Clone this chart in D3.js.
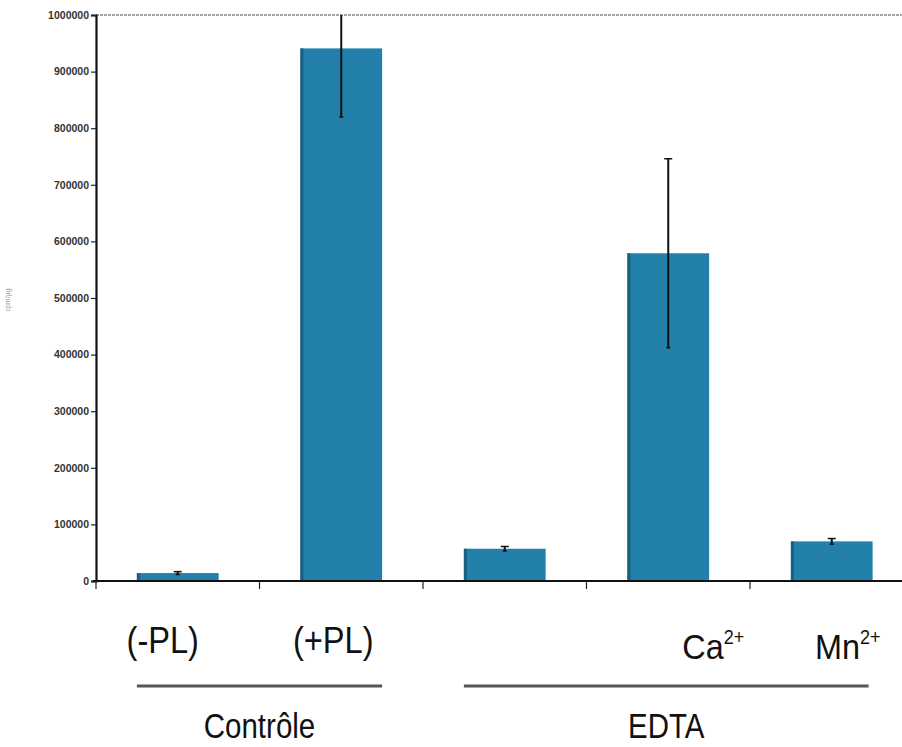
<!DOCTYPE html>
<html><head><meta charset="utf-8">
<script src="https://cdn.jsdelivr.net/npm/d3@7"></script>
<style>
html,body{margin:0;padding:0;background:#fff;}
svg{display:block;}
</style></head>
<body>
<svg id="chart" width="902" height="747"></svg>
<script>
// ---- data ----
const categories = ["(-PL)", "(+PL)", "EDTA", "Ca2+", "Mn2+"];
const labelBase = ["(-PL)", "(+PL)", "", "Ca", "Mn"];
const labelSup = ["", "", "", "2+", "2+"];
const values = [14000, 941000, 57000, 579000, 70000];
const errors = [2500, 121000, 4000, 167000, 5000];
const yTicks = [0, 100000, 200000, 300000, 400000, 500000, 600000, 700000, 800000, 900000, 1000000];
const groupNames = ["Contrôle", "EDTA"];
const groupFrom = [0, 2];
const groupTo = [1, 4];
const yTitle = "cpm/µg";

// ---- layout ----
const mLeft = 96, mRight = 913.5, mTop = 15, mBottom = 581;
const labelShift = [-15, -8, 0, 45, 16];
const font = "'Liberation Sans',Arial,sans-serif";
const barColor = "#2280ab";

const svg = d3.select("#chart");
const x = d3.scaleBand().domain(categories).range([mLeft, mRight]).paddingInner(0.5).paddingOuter(0.25);
const y = d3.scaleLinear().domain([0, 1000000]).range([mBottom, mTop]);

svg.append("defs").append("clipPath").attr("id", "plotclip")
  .append("rect").attr("x", mLeft).attr("y", mTop).attr("width", mRight - mLeft).attr("height", mBottom - mTop);

// top border (dotted gray)
svg.append("line").attr("x1", mLeft).attr("x2", 902).attr("y1", y(1000000)).attr("y2", y(1000000))
  .attr("stroke", "#888").attr("stroke-width", 1.5).attr("stroke-dasharray", "3,1");

// bars
const barsG = svg.append("g");
barsG.selectAll("rect").data(values).join("rect")
  .attr("x", (d, i) => x(categories[i]))
  .attr("y", d => y(d))
  .attr("width", x.bandwidth())
  .attr("height", d => y(0) - y(d))
  .attr("fill", barColor);
barsG.selectAll("line.edge").data(values).join("line").attr("class", "edge")
  .attr("x1", (d, i) => x(categories[i]) + 1.5).attr("x2", (d, i) => x(categories[i]) + 1.5)
  .attr("y1", d => y(d)).attr("y2", y(0))
  .attr("stroke", "#1a5f80").attr("stroke-width", 3);

// error bars
const eg = svg.append("g").attr("clip-path", "url(#plotclip)");
values.forEach((v, i) => {
  const cx = x(categories[i]) + x.bandwidth() / 2;
  const e = errors[i];
  eg.append("line").attr("x1", cx).attr("x2", cx).attr("y1", y(v - e)).attr("y2", y(v + e))
    .attr("stroke", "#111").attr("stroke-width", 2);
  eg.append("line").attr("x1", cx - 4).attr("x2", cx + 4).attr("y1", y(v + e)).attr("y2", y(v + e))
    .attr("stroke", "#111").attr("stroke-width", 1.5);
  eg.append("line").attr("x1", cx - 2).attr("x2", cx + 2).attr("y1", y(v - e)).attr("y2", y(v - e))
    .attr("stroke", "#111").attr("stroke-width", 1.5);
});

// y axis
const yAxis = svg.append("g").attr("transform", `translate(${mLeft},0)`)
  .call(d3.axisLeft(y).tickValues(yTicks).tickFormat(d3.format("d")).tickSize(5).tickPadding(2));
yAxis.select(".domain").attr("stroke", "#111").attr("stroke-width", 2.2);
yAxis.selectAll(".tick line").attr("stroke", "#222").attr("stroke-width", 1.2);
yAxis.selectAll(".tick text").attr("font-family", font).attr("font-size", 10.5).attr("font-weight", "bold").attr("fill", "#333");

// x axis (boundary ticks)
const step = x.step();
const bounds = categories.map((c, i) => x(c) - step * 0.25);
const xg = svg.append("g");
xg.append("line").attr("x1", mLeft - 3).attr("x2", 902).attr("y1", y(0)).attr("y2", y(0))
  .attr("stroke", "#111").attr("stroke-width", 2);
xg.selectAll("line.tk").data(bounds).join("line").attr("class", "tk")
  .attr("x1", d => d).attr("x2", d => d).attr("y1", y(0)).attr("y2", y(0) + 8)
  .attr("stroke", "#222").attr("stroke-width", 1.2);

// y title
svg.append("text").attr("transform", "translate(10,300) rotate(-90)")
  .attr("text-anchor", "middle").attr("font-family", font).attr("font-size", 7).attr("fill", "#999")
  .text(yTitle);

// category labels
categories.forEach((c, i) => {
  if (!labelBase[i]) return;
  const cx = x(c) + x.bandwidth() / 2 + labelShift[i];
  const sup = labelSup[i] !== "";
  const t = svg.append("text")
    .attr("transform", `translate(${cx},${sup ? 659 : 653}) scale(${sup ? 0.9 : 0.88},1)`)
    .attr("text-anchor", "middle").attr("font-family", font).attr("font-size", sup ? 36 : 37).attr("fill", "#111");
  t.append("tspan").text(labelBase[i]);
  if (sup) t.append("tspan").attr("font-size", 20).attr("dy", -15).text(labelSup[i]);
});

// group lines and names
groupNames.forEach((g, k) => {
  const x1 = x(categories[groupFrom[k]]);
  const x2 = x(categories[groupTo[k]]) + x.bandwidth() - (k === 1 ? 4 : 0);
  svg.append("line").attr("x1", x1).attr("x2", x2).attr("y1", 686).attr("y2", 686)
    .attr("stroke", "#555").attr("stroke-width", 3);
  svg.append("text").attr("transform", `translate(${(x1 + x2) / 2},738) scale(0.82,1)`).attr("text-anchor", "middle")
    .attr("font-family", font).attr("font-size", 36).attr("fill", "#111").text(g);
});
</script>
</body></html>
